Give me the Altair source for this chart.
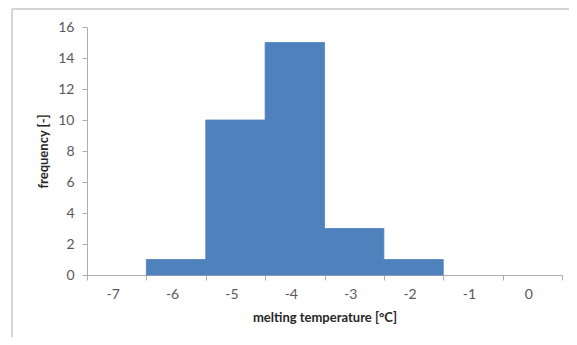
import altair as alt
import pandas as pd

centers = [-7, -6, -5, -4, -3, -2, -1, 0]
counts = [0, 1, 10, 15, 3, 1, 0, 0]
y_ticks = [0, 2, 4, 6, 8, 10, 12, 14, 16]
x_title = "melting temperature [°C]"
y_title = "frequency [-]"

df = pd.DataFrame({"center": centers, "count": counts})
df["start"] = df["center"] - 0.5
df["end"] = df["center"] + 0.5

x_values = sorted(set([c for c in centers] + [c - 0.5 for c in centers] + [centers[-1] + 0.5]))

FONT = "Lato"
W, H = 475, 248

xscale = alt.Scale(domain=[-7.5, 0.5], nice=False, zero=False)
yscale = alt.Scale(domain=[0, 16], nice=False)

bars = alt.Chart(df).transform_filter("datum.count > 0").mark_rect(
    color="#4F81BD", stroke="#4F81BD", strokeWidth=0.8
).encode(
    x=alt.X(
        "start:Q",
        scale=xscale,
        axis=alt.Axis(
            values=x_values,
            labelExpr="datum.value % 1 === 0 ? '' + datum.value : ''",
            tickOpacity={"condition": {"test": "datum.value % 1 === 0", "value": 0}, "value": 1},
            labelOverlap=False,
            labelFlush=False,
            labelOffset=-4,
            tickSize=5,
            labelPadding=7,
            title=x_title,
            titlePadding=10,
            grid=False,
        ),
    ),
    x2="end:Q",
    y=alt.Y(
        "count:Q",
        scale=yscale,
        axis=alt.Axis(
            values=y_ticks,
            tickSize=5,
            labelPadding=8,
            title=y_title,
            titlePadding=7,
            grid=False,
        ),
    ),
    y2=alt.datum(0),
)

frame_top = alt.Chart(df).mark_rule(color="#D4D4D4", strokeWidth=1).encode(
    x=alt.value(-75), x2=alt.value(W + 30), y=alt.value(-18)
)
frame_left = alt.Chart(df).mark_rule(color="#D4D4D4", strokeWidth=1).encode(
    x=alt.value(-75), y=alt.value(-18), y2=alt.value(H + 80)
)

chart = (
    alt.layer(frame_top, frame_left, bars)
    .properties(
        width=W,
        height=H,
        background="white",
        autosize=alt.AutoSizeParams(type="none"),
        padding={"left": 79, "top": 19, "right": 7, "bottom": 62},
    )
    .configure_view(stroke=None)
    .configure_axis(
        labelFont=FONT,
        labelFontSize=14,
        labelColor="#595959",
        titleFont=FONT,
        titleFontSize=13,
        titleFontWeight="bold",
        titleColor="#262626",
        domainColor="#ADADAD",
        tickColor="#ADADAD",
    )
)

chart.save("out.html", embed_options={"renderer": "svg", "actions": False})
